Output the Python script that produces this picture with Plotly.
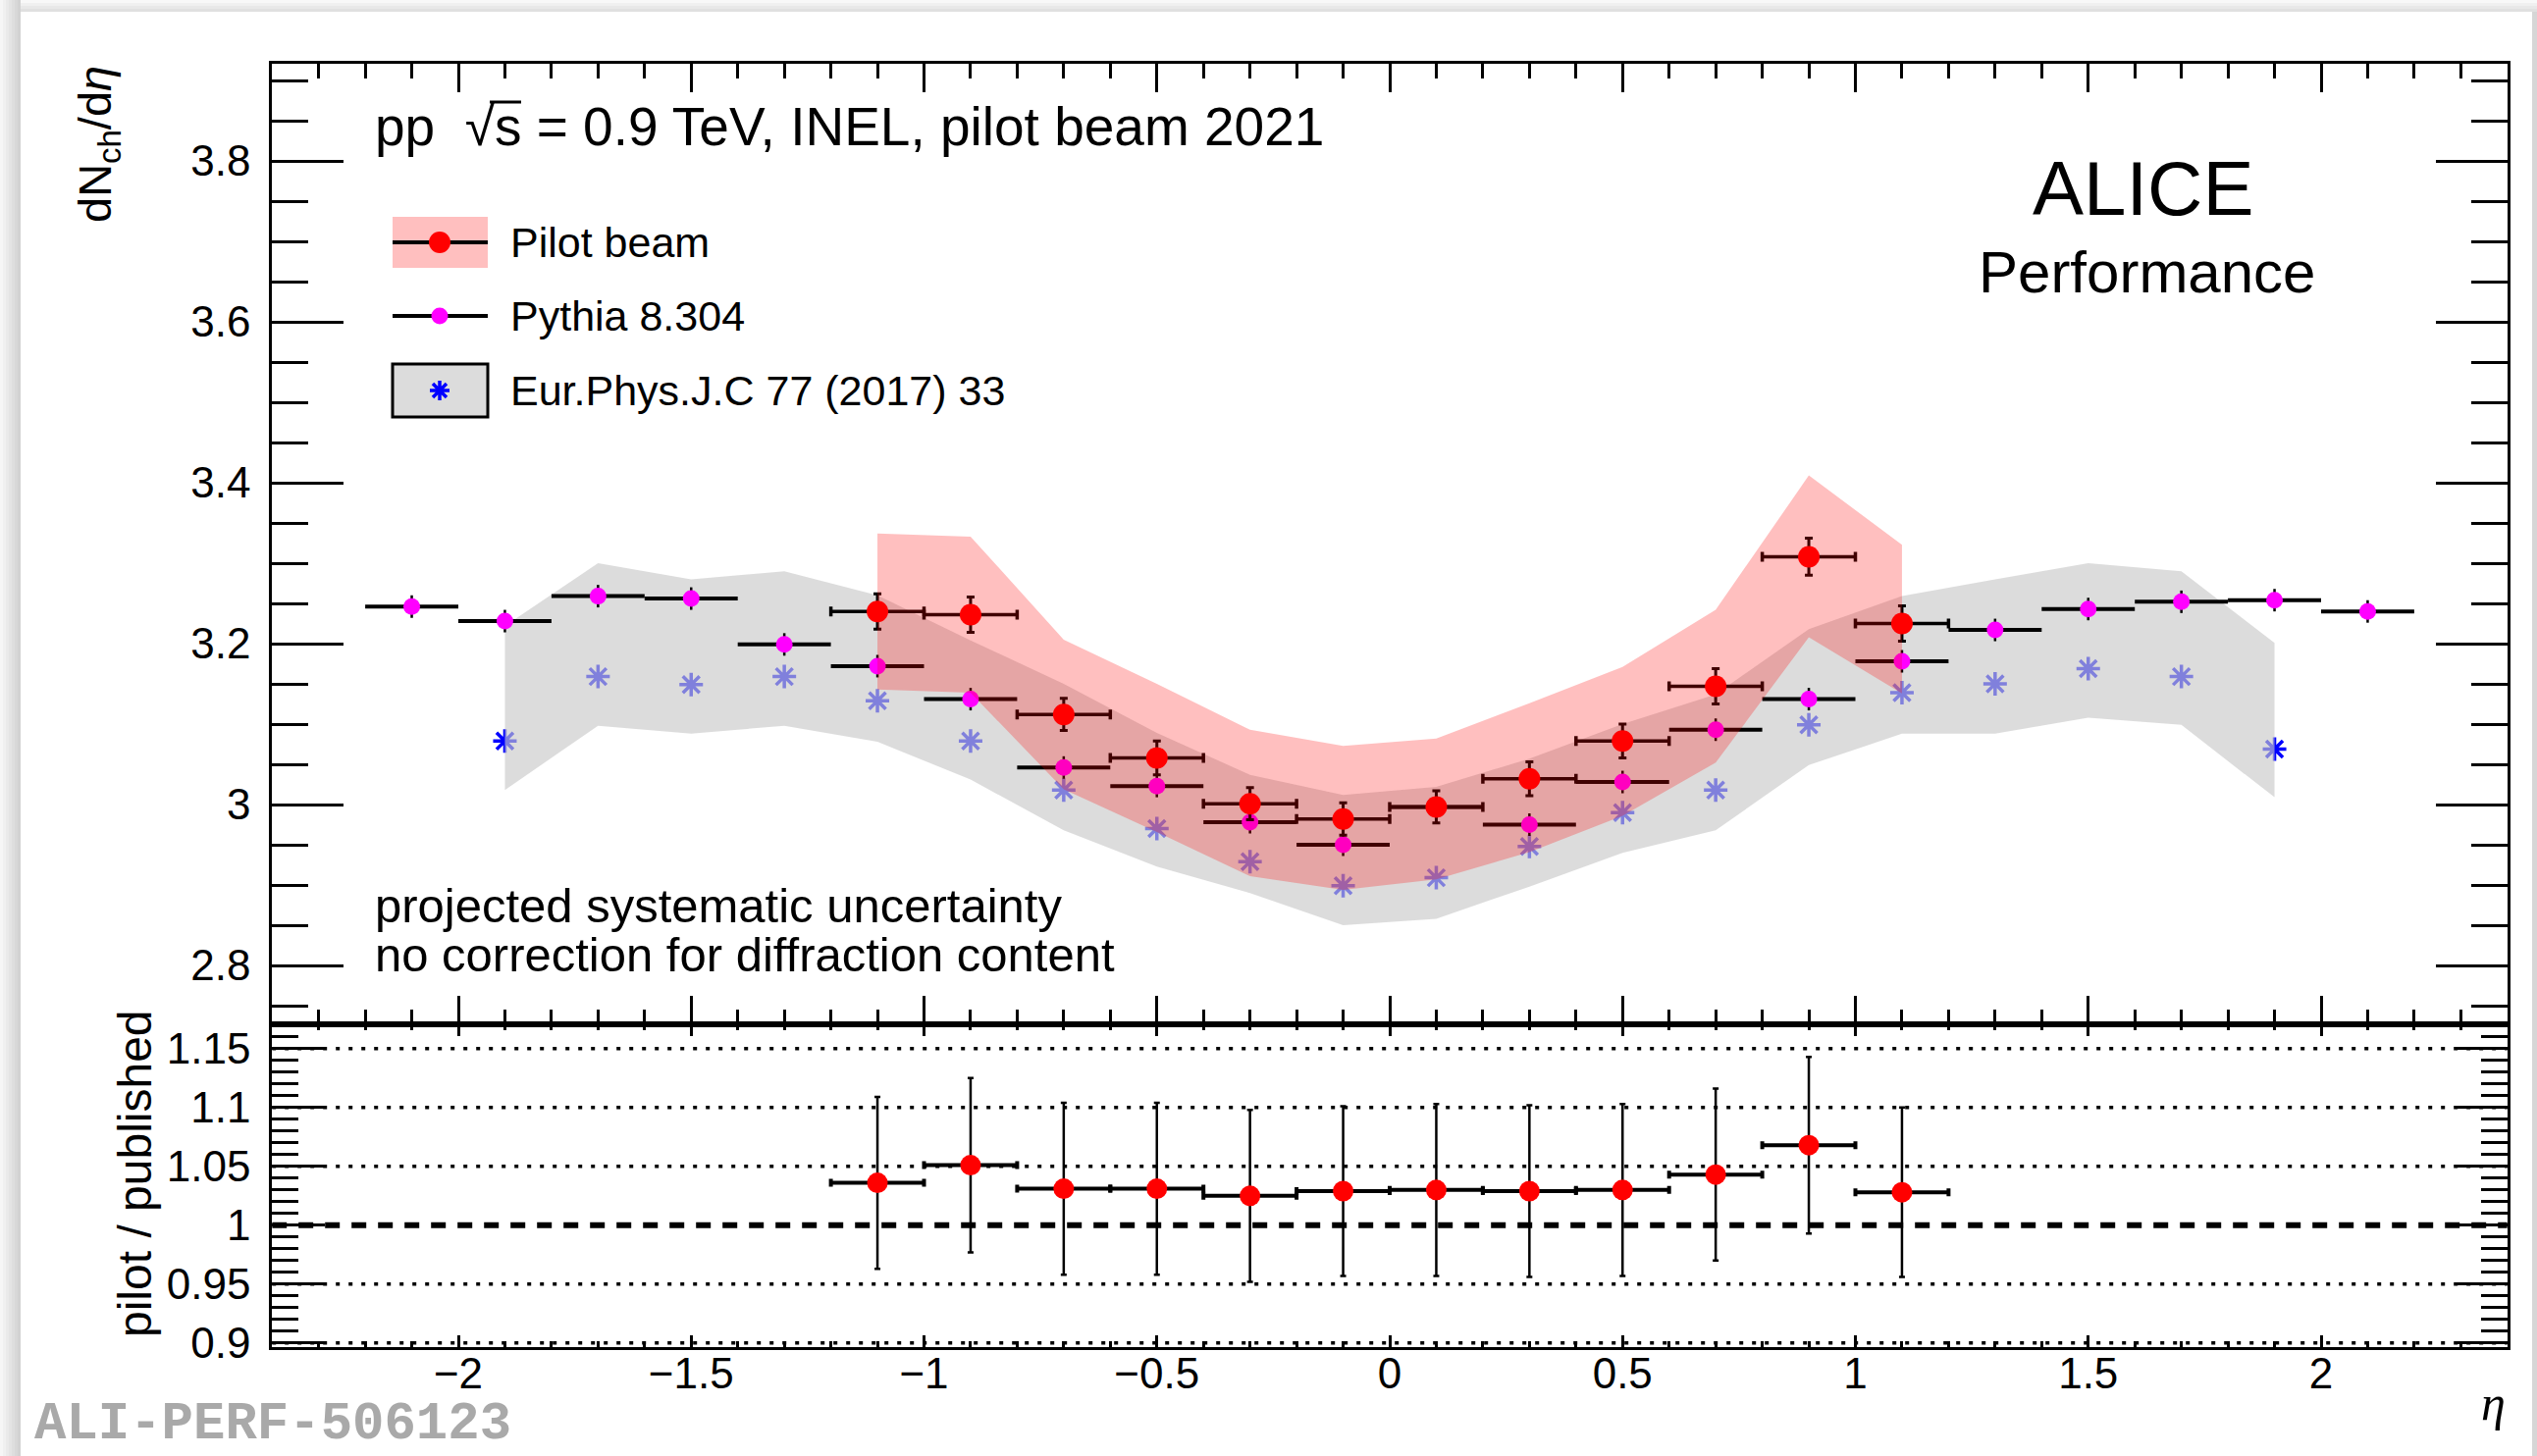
import plotly.graph_objects as go

W, H = 2585, 1484

# ---------------- data ----------------
eta_pythia = [-2.1, -1.9, -1.7, -1.5, -1.3, -1.1, -0.9, -0.7, -0.5, -0.3, -0.1,
              0.1, 0.3, 0.5, 0.7, 0.9, 1.1, 1.3, 1.5, 1.7, 1.9, 2.1]
pythia = [3.246, 3.228, 3.259, 3.256, 3.199, 3.172, 3.131, 3.046, 3.023, 2.978, 2.950,
          2.997, 2.975, 3.028, 3.093, 3.131, 3.178, 3.217, 3.243, 3.252, 3.254, 3.240]
pythia_err = [0.014, 0.014, 0.014, 0.014, 0.014, 0.014, 0.014, 0.014, 0.014, 0.014, 0.014,
              0.014, 0.014, 0.014, 0.014, 0.014, 0.014, 0.014, 0.014, 0.014, 0.014, 0.014]

eta_pub = [-1.9, -1.7, -1.5, -1.3, -1.1, -0.9, -0.7, -0.5, -0.3, -0.1,
           0.1, 0.3, 0.5, 0.7, 0.9, 1.1, 1.3, 1.5, 1.7, 1.9]
published = [3.079, 3.159, 3.149, 3.159, 3.129, 3.079, 3.018, 2.970, 2.929, 2.899,
             2.909, 2.948, 2.990, 3.018, 3.099, 3.139, 3.150, 3.169, 3.159, 3.069]
pub_band_hi = [3.222, 3.300, 3.280, 3.290, 3.260, 3.204, 3.150, 3.089, 3.037, 3.012,
               3.022, 3.057, 3.100, 3.137, 3.218, 3.259, 3.280, 3.300, 3.290, 3.201]
pub_band_lo = [3.018, 3.098, 3.088, 3.098, 3.078, 3.031, 2.968, 2.923, 2.890, 2.850,
               2.858, 2.898, 2.940, 2.968, 3.049, 3.088, 3.088, 3.108, 3.099, 3.009]

eta_pilot = [-1.1, -0.9, -0.7, -0.5, -0.3, -0.1, 0.1, 0.3, 0.5, 0.7, 0.9, 1.1]
pilot = [3.240, 3.236, 3.112, 3.058, 3.001, 2.982, 2.997, 3.032, 3.079, 3.147, 3.308, 3.225]
pilot_stat = [0.022, 0.022, 0.020, 0.021, 0.020, 0.020, 0.020, 0.021, 0.021, 0.022, 0.023, 0.022]
pilot_sys_hi = [3.337, 3.333, 3.205, 3.150, 3.093, 3.073, 3.082, 3.126, 3.171, 3.242, 3.409, 3.323]
pilot_sys_lo = [3.143, 3.139, 3.019, 2.966, 2.911, 2.894, 2.907, 2.941, 2.986, 3.052, 3.208, 3.138]

ratio = [1.036, 1.051, 1.031, 1.031, 1.025, 1.029, 1.030, 1.029, 1.030, 1.043, 1.068, 1.028]
ratio_err = [0.073, 0.074, 0.073, 0.073, 0.073, 0.072, 0.073, 0.073, 0.073, 0.073, 0.075, 0.072]

eta_bin_half = 0.1

x_ticks = [-2, -1.5, -1, -0.5, 0, 0.5, 1, 1.5, 2]
x_tick_text = ["\u22122", "\u22121.5", "\u22121", "\u22120.5", "0", "0.5", "1", "1.5", "2"]
y_ticks = [2.8, 3.0, 3.2, 3.4, 3.6, 3.8]
y_tick_text = ["2.8", "3", "3.2", "3.4", "3.6", "3.8"]
r_ticks = [0.9, 0.95, 1.0, 1.05, 1.1, 1.15]
r_tick_text = ["0.9", "0.95", "1", "1.05", "1.1", "1.15"]
r_dotted = [0.9, 0.95, 1.05, 1.1, 1.15]
r_dashed = 1.0

X_RANGE = [-2.4, 2.4]
Y_RANGE = [2.72683, 3.92073]
R_RANGE = [0.8965, 1.17067]

FONT = "Liberation Sans, Arial, Helvetica, sans-serif"


def px(x):
    return x / W


def py(y):
    return 1 - y / H


fig = go.Figure()

# published (blue asterisks), drawn first so the grey band covers them
fig.add_trace(go.Scatter(
    x=eta_pub, y=published, mode="markers", xaxis="x", yaxis="y",
    marker=dict(symbol="asterisk-open", size=20, color="#0000ff",
                line=dict(color="#0000ff", width=3.5)),
    showlegend=False, hoverinfo="skip"))

# grey systematic band of the published data
fig.add_trace(go.Scatter(
    x=eta_pub + eta_pub[::-1], y=pub_band_hi + pub_band_lo[::-1],
    mode="lines", fill="toself", fillcolor="rgba(200,200,200,0.64)",
    line=dict(width=0), xaxis="x", yaxis="y", showlegend=False, hoverinfo="skip"))

# Pythia
fig.add_trace(go.Scatter(
    x=eta_pythia, y=pythia, mode="markers", xaxis="x", yaxis="y",
    marker=dict(symbol="circle", size=17, color="#ff00ff", line=dict(width=0)),
    error_x=dict(type="constant", value=eta_bin_half, color="black", thickness=4, width=0),
    error_y=dict(type="data", array=pythia_err, color="black", thickness=2.5, width=0),
    showlegend=False, hoverinfo="skip"))

# Pilot beam points
fig.add_trace(go.Scatter(
    x=eta_pilot, y=pilot, mode="markers", xaxis="x", yaxis="y",
    marker=dict(symbol="circle", size=22, color="#ff0000", line=dict(width=0)),
    error_x=dict(type="constant", value=eta_bin_half, color="black", thickness=3.5, width=5),
    error_y=dict(type="data", array=pilot_stat, color="black", thickness=3, width=4),
    showlegend=False, hoverinfo="skip"))

# Pilot beam systematic band (on top)
fig.add_trace(go.Scatter(
    x=eta_pilot + eta_pilot[::-1], y=pilot_sys_hi + pilot_sys_lo[::-1],
    mode="lines", fill="toself", fillcolor="rgba(255,0,0,0.25)",
    line=dict(width=0), xaxis="x", yaxis="y", showlegend=False, hoverinfo="skip"))

# ratio panel
fig.add_trace(go.Scatter(
    x=eta_pilot, y=ratio, mode="markers", xaxis="x2", yaxis="y2",
    marker=dict(symbol="circle", size=21, color="#ff0000", line=dict(width=0)),
    error_x=dict(type="constant", value=eta_bin_half, color="black", thickness=4, width=4),
    error_y=dict(type="data", array=ratio_err, color="black", thickness=2.5, width=3),
    showlegend=False, hoverinfo="skip"))

x_dom = [277.2 / W, 2554.8 / W]
y_dom_top = [1 - 1044 / H, 1 - 65 / H]
y_dom_bot = [1 - 1373 / H, 1 - 1044 / H]

axis_common = dict(showline=True, linewidth=3, linecolor="black", mirror="allticks",
                   ticks="inside", tickcolor="black", tickwidth=2.5, automargin=False,
                   showgrid=False, zeroline=False, fixedrange=True,
                   tickfont=dict(family=FONT, size=44, color="black"))

fig.update_layout(
    width=W, height=H, margin=dict(l=0, r=0, t=0, b=0, pad=0, autoexpand=False),
    paper_bgcolor="white", plot_bgcolor="white", showlegend=False,
    xaxis=dict(domain=x_dom, range=X_RANGE, anchor="y", tickmode="array",
               tickvals=x_ticks, ticktext=x_tick_text, ticklen=29, showticklabels=False,
               minor=dict(tickmode="linear", tick0=0, dtick=0.1, ticklen=15, tickwidth=2.5,
                          tickcolor="black", ticks="inside"),
               **axis_common),
    xaxis2=dict(domain=x_dom, range=X_RANGE, anchor="y2", tickmode="array",
                tickvals=x_ticks, ticktext=x_tick_text, ticklen=12, showticklabels=True,
                ticklabelstandoff=-14,
                minor=dict(tickmode="linear", tick0=0, dtick=0.1, ticklen=6, tickwidth=2.5,
                           tickcolor="black", ticks="inside"),
                **axis_common),
    yaxis=dict(domain=y_dom_top, range=Y_RANGE, anchor="x", tickmode="array",
               tickvals=y_ticks, ticktext=y_tick_text, ticklen=73, ticklabelstandoff=10,
               minor=dict(tickmode="linear", tick0=2.8, dtick=0.05, ticklen=37, tickwidth=2.5,
                          tickcolor="black", ticks="inside"),
               **axis_common),
    yaxis2=dict(domain=y_dom_bot, range=R_RANGE, anchor="x2", tickmode="array",
                tickvals=r_ticks, ticktext=r_tick_text, ticklen=54, ticklabelstandoff=10,
                minor=dict(tickmode="linear", tick0=0.9, dtick=0.01, ticklen=27, tickwidth=2.5,
                           tickcolor="black", ticks="inside"),
                **axis_common),
)

shapes = []
# ratio reference lines
for v in r_dotted:
    shapes.append(dict(type="line", xref="x2", yref="y2", x0=X_RANGE[0], x1=X_RANGE[1],
                       y0=v, y1=v, layer="below",
                       line=dict(color="black", width=3.5, dash="4px,9px")))
shapes.append(dict(type="line", xref="x2", yref="y2", x0=X_RANGE[0], x1=X_RANGE[1],
                   y0=r_dashed, y1=r_dashed, layer="below",
                   line=dict(color="black", width=6, dash="15px,12px")))

# page shadow border
left_cols = ["#f6f6f6", "#f0f0f0", "#eaeaea", "#e4e4e4", "#dedede", "#d8d8d8", "#d2d2d2"]
for i, c in enumerate(left_cols):
    shapes.append(dict(type="rect", xref="paper", yref="paper", x0=px(i * 3), x1=px(i * 3 + 3),
                       y0=0, y1=1, fillcolor=c, line=dict(width=0), layer="above"))
top_cols = ["#f8f8f8", "#f0f0f0", "#e8e8e8", "#e0e0e0"]
for i, c in enumerate(top_cols):
    shapes.append(dict(type="rect", xref="paper", yref="paper", x0=px(21), x1=1,
                       y0=py(i * 3 + 3), y1=py(i * 3), fillcolor=c, line=dict(width=0),
                       layer="above"))
shapes.append(dict(type="rect", xref="paper", yref="paper", x0=px(2580), x1=1,
                   y0=0, y1=py(12), fillcolor="#d6d6d6", line=dict(width=0), layer="above"))

# legend keys
shapes.append(dict(type="rect", xref="paper", yref="paper", x0=px(400), x1=px(497),
                   y0=py(273), y1=py(221), fillcolor="#ffbfbf", line=dict(width=0)))
shapes.append(dict(type="line", xref="paper", yref="paper", x0=px(400), x1=px(497),
                   y0=py(247), y1=py(247), line=dict(color="black", width=4)))
shapes.append(dict(type="circle", xref="paper", yref="paper", x0=px(437), x1=px(459),
                   y0=py(258), y1=py(236), fillcolor="#ff0000", line=dict(width=0)))
shapes.append(dict(type="line", xref="paper", yref="paper", x0=px(400), x1=px(497),
                   y0=py(322), y1=py(322), line=dict(color="black", width=4)))
shapes.append(dict(type="circle", xref="paper", yref="paper", x0=px(439.5), x1=px(456.5),
                   y0=py(330.5), y1=py(313.5), fillcolor="#ff00ff", line=dict(width=0)))
shapes.append(dict(type="rect", xref="paper", yref="paper", x0=px(400), x1=px(497),
                   y0=py(425), y1=py(371), fillcolor="#dcdcdc",
                   line=dict(color="black", width=3)))
cx, cy, r = 448, 398, 10
ast_path = (f"M{px(cx)},{py(cy - r)} L{px(cx)},{py(cy + r)} "
            f"M{px(cx - r)},{py(cy)} L{px(cx + r)},{py(cy)} "
            f"M{px(cx - 7)},{py(cy - 7)} L{px(cx + 7)},{py(cy + 7)} "
            f"M{px(cx - 7)},{py(cy + 7)} L{px(cx + 7)},{py(cy - 7)}")
shapes.append(dict(type="path", xref="paper", yref="paper", path=ast_path,
                   line=dict(color="#0000ff", width=3.5)))
# overbar of the square root over "s"
shapes.append(dict(type="line", xref="paper", yref="paper", x0=px(499), x1=px(531),
                   y0=py(104), y1=py(104), line=dict(color="black", width=3)))

fig.update_layout(shapes=shapes)

ann = []


def text(x, y, s, size, xanchor="left", yanchor="middle", angle=0, family=FONT,
         color="black"):
    ann.append(dict(x=px(x), y=py(y), xref="paper", yref="paper", text=s, showarrow=False,
                    xanchor=xanchor, yanchor=yanchor, textangle=angle,
                    font=dict(family=family, size=size, color=color)))


text(380, 129, "pp  \u221as = 0.9 TeV, INEL, pilot beam 2021", 55)
text(518, 247, "Pilot beam", 43)
text(518, 322, "Pythia 8.304", 43)
text(518, 398, "Eur.Phys.J.C 77 (2017) 33", 43)
text(2183, 192, "ALICE", 78, xanchor="center")
text(2187, 277, "Performance", 60, xanchor="center")
text(380, 923, "projected systematic uncertainty", 49)
text(380, 973, "no correction for diffraction content", 49)
text(100, 65, "dN<sub>ch</sub>/d<i>\u03b7</i>", 47, xanchor="center", yanchor="top", angle=-90)
text(137, 1196, "pilot / published", 48, xanchor="center", angle=-90)
text(2555, 1430, "<i>\u03b7</i>", 50, xanchor="right", family="Liberation Serif, serif")
text(33, 1484, "<b>ALI-PERF-506123</b>", 54, yanchor="bottom",
     family="Liberation Mono, monospace", color="#a9a9a9")

fig.update_layout(annotations=ann)

fig.write_html("out.html")
